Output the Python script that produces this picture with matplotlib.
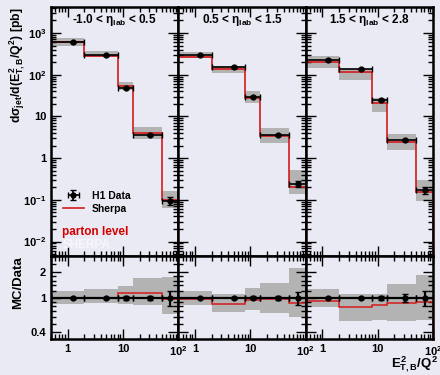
import matplotlib
matplotlib.use("Agg")
import matplotlib.pyplot as plt
from matplotlib.ticker import LogLocator, FixedLocator, NullFormatter, FixedFormatter
import numpy as np

plt.rcParams['font.family'] = ['Liberation Sans', 'DejaVu Sans']
plt.rcParams['font.weight'] = 'bold'
plt.rcParams['mathtext.fontset'] = 'custom'
plt.rcParams['mathtext.rm'] = 'Liberation Sans:bold'
plt.rcParams['mathtext.it'] = 'Liberation Sans:bold'
plt.rcParams['mathtext.bf'] = 'Liberation Sans:bold'

########## data ##########
edges = [0.5, 2, 8, 15, 50, 100]
xpts = [1.25, 5.0, 11.3, 31, 72]
titles = [r'-1.0 < $\eta_{lab}$ < 0.5', r'0.5 < $\eta_{lab}$ < 1.5', r'1.5 < $\eta_{lab}$ < 2.8']

data = [[600, 295, 48, 3.5, 0.095],
        [295, 154, 30, 3.5, 0.24],
        [224, 138, 25, 2.75, 0.17]]
data_err = [[20, 10, 3, 0.2, 0.02],
            [10, 6, 1.5, 0.2, 0.04],
            [8, 5, 1.2, 0.2, 0.035]]
mc = [[600, 282, 53, 4.0, 0.10],
      [272, 134, 28, 3.4, 0.20],
      [200, 117, 21, 2.4, 0.15]]
band_hi = [[740, 368, 67, 5.7, 0.166],
           [355, 163, 40, 5.3, 0.52],
           [280, 135, 27.5, 3.8, 0.30]]
band_lo = [[490, 260, 43, 2.8, 0.064],
           [245, 107, 21, 2.3, 0.14],
           [148, 73, 13, 1.6, 0.095]]

ratio_mc = [[1.01, 1.0, 1.14, 1.15, 0.97],
            [0.98, 0.86, 0.94, 0.97, 0.88],
            [0.92, 0.79, 0.82, 0.88, 0.90]]
ratio_hi = [[1.21, 1.27, 1.38, 1.69, 1.78],
            [1.21, 1.12, 1.32, 1.51, 2.23],
            [1.27, 1.10, 1.10, 1.47, 1.87]]
ratio_lo = [[0.84, 0.87, 0.84, 0.82, 0.65],
            [0.83, 0.69, 0.72, 0.66, 0.60],
            [0.78, 0.54, 0.55, 0.54, 0.55]]
ratio_err = [[0.03, 0.03, 0.05, 0.06, 0.2],
             [0.03, 0.03, 0.04, 0.06, 0.18],
             [0.03, 0.03, 0.05, 0.1, 0.2]]

bg = '#eaeaf4'
grey = '#b3b3b3'
red = '#d41a1a'

fig = plt.figure(figsize=(4.4, 3.75), dpi=100, facecolor=bg)

L, R = 51 / 440, 433 / 440
w = (R - L) / 3
top_b, top_h = 1 - 256 / 375, 249 / 375
rat_b, rat_h = 1 - 339 / 375, 83 / 375

xe = np.array(xpts)
xerr = [xe - np.array(edges[:-1]), np.array(edges[1:]) - xe]


def style(ax):
    ax.set_facecolor(bg)
    ax.set_xscale('log')
    ax.set_xlim(0.5, 100)
    for s in ax.spines.values():
        s.set_linewidth(1.8)
    ax.tick_params(which='both', direction='in', top=True, right=True, width=1.0,
                   labelsize=8)
    ax.tick_params(which='major', length=7)
    ax.tick_params(which='minor', length=3.5)
    ax.xaxis.set_major_locator(FixedLocator([1, 10, 100]))
    ax.xaxis.set_minor_locator(LogLocator(base=10, subs=np.arange(2, 10)))
    ax.xaxis.set_minor_formatter(NullFormatter())


for i in range(3):
    ax = fig.add_axes([L + i * w, top_b, w, top_h])
    rx = fig.add_axes([L + i * w, rat_b, w, rat_h])
    style(ax)
    style(rx)

    # top panel
    ax.set_yscale('log')
    ax.set_ylim(4.5e-3, 4.2e3)
    for j in range(5):
        ax.fill_between([edges[j], edges[j + 1]], band_lo[i][j], band_hi[i][j],
                        color=grey, lw=0, zorder=1)
    ax.stairs(mc[i], edges, color=red, lw=1.2, zorder=2, label='Sherpa')
    ax.errorbar(xpts, data[i], yerr=data_err[i], xerr=xerr, fmt='o', color='black',
                ms=3.5, lw=1.2, capsize=2, capthick=1, zorder=3, label='H1 Data')
    ax.yaxis.set_minor_locator(LogLocator(base=10, subs=np.arange(2, 10), numticks=20))
    ax.yaxis.set_minor_formatter(NullFormatter())
    ax.set_yticks([1e-2, 1e-1, 1, 10, 1e2, 1e3])
    ax.set_yticklabels([r'$10^{-2}$', r'$10^{-1}$', '1', '10', r'$10^{2}$', r'$10^{3}$'])
    ax.tick_params(labelbottom=False)
    if i > 0:
        ax.tick_params(labelleft=False)
    ax.text(0.5, 0.948, titles[i], transform=ax.transAxes, ha='center', va='center',
            fontsize=8.5, fontweight='bold')

    # ratio panel
    rx.set_yscale('log')
    rx.set_ylim(0.33, 3.1)
    for j in range(5):
        rx.fill_between([edges[j], edges[j + 1]], ratio_lo[i][j], ratio_hi[i][j],
                        color=grey, lw=0, zorder=1)
    rx.stairs(ratio_mc[i], edges, color=red, lw=1.1, zorder=2)
    rx.errorbar(xpts, [1] * 5, yerr=ratio_err[i], xerr=xerr, fmt='o', color='black',
                ms=3.5, lw=1.6, capsize=2, capthick=1, zorder=3)
    rx.yaxis.set_major_locator(FixedLocator([0.4, 1, 2]))
    rx.yaxis.set_major_formatter(FixedFormatter(['0.4', '1', '2']))
    rx.yaxis.set_minor_locator(FixedLocator([0.5, 0.6, 0.7, 0.8, 0.9, 1.2, 1.4, 1.6, 1.8, 2.5, 3]))
    rx.yaxis.set_minor_formatter(NullFormatter())
    rx.set_xticklabels(['1', '10', r'$10^{2}$'])
    rx.tick_params(axis='x', pad=3.5)
    if i > 0:
        rx.tick_params(labelleft=False)

    if i == 0:
        ax.set_ylabel(r'd$\sigma_{jet}$/d($E^{2}_{T,B}$/$Q^{2}$) [pb]', fontsize=8.8,
                      fontweight='bold', ha='right', va='center')
        ax.yaxis.set_label_coords(-0.26, 1.0)
        rx.set_ylabel('MC/Data', fontsize=9.5, fontweight='bold', ha='right', va='center')
        rx.yaxis.set_label_coords(-0.26, 1.0)
        h, lab = ax.get_legend_handles_labels()
        ax.legend(h[::-1], lab[::-1], loc='upper left', bbox_to_anchor=(0.02, 0.3),
                  frameon=False, handlelength=2.0, labelspacing=0.3,
                  prop={'weight': 'bold', 'size': 7.5})
        ax.text(0.09, 0.095, 'parton level', transform=ax.transAxes, color='#d40000',
                fontsize=8.5, fontweight='bold', va='center')
        ax.text(0.09, 0.045, 'SHERPA', transform=ax.transAxes, color='#f6f6fb',
                fontsize=8.5, fontweight='bold', va='center')

fig.text(0.997, 0.0, r'$E^{2}_{T,B}/Q^{2}$', ha='right', va='bottom', fontsize=9.5,
         fontweight='bold')

fig.savefig('out.png', dpi=100, facecolor=bg)
